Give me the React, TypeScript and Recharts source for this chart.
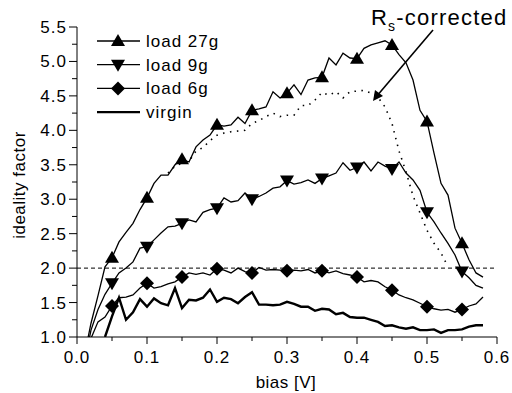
import React from 'react';
import { LineChart, Line, XAxis, YAxis, ReferenceLine } from 'recharts';

const bias = [
  0.01, 0.02, 0.03, 0.04, 0.05, 0.06, 0.07, 0.08, 0.09, 0.1,
  0.11, 0.12, 0.13, 0.14, 0.15, 0.16, 0.17, 0.18, 0.19, 0.2,
  0.21, 0.22, 0.23, 0.24, 0.25, 0.26, 0.27, 0.28, 0.29, 0.3,
  0.31, 0.32, 0.33, 0.34, 0.35, 0.36, 0.37, 0.38, 0.39, 0.4,
  0.41, 0.42, 0.43, 0.44, 0.45, 0.46, 0.47, 0.48, 0.49, 0.5,
  0.51, 0.52, 0.53, 0.54, 0.55, 0.56, 0.57, 0.58,
];

const load27g = [
  0.7, 1.2, 1.6, 2.02, 2.15, 2.38, 2.52, 2.65, 2.85, 3.02,
  3.23, 3.35, 3.35, 3.5, 3.58, 3.54, 3.76, 3.86, 3.93, 4.08,
  4.06, 4.08, 4.19, 4.1, 4.29, 4.31, 4.34, 4.56, 4.47, 4.54,
  4.66, 4.52, 4.73, 4.76, 4.77, 5.05, 4.95, 5.12, 5.05, 5.04,
  5.19, 5.24, 5.27, 5.3, 5.24, 5.1, 4.98, 4.73, 4.29, 4.13,
  3.67, 3.23, 3.06, 2.58, 2.36, 2.12, 1.93, 1.87,
];

const load9g = [
  0.6, 1.1, 1.4, 1.62, 1.78, 1.93, 2.0, 2.09, 2.29, 2.31,
  2.41, 2.51, 2.6, 2.61, 2.65, 2.7, 2.67, 2.81, 2.85, 2.87,
  3.02, 2.96, 2.98, 3.09, 3.0, 3.04, 3.09, 3.16, 3.18, 3.27,
  3.22, 3.24, 3.28, 3.23, 3.3, 3.34, 3.38, 3.53, 3.42, 3.46,
  3.54, 3.41, 3.54, 3.48, 3.44, 3.54, 3.38, 3.28, 3.13, 2.81,
  2.67, 2.51, 2.36, 2.19, 1.95, 1.86, 1.75, 1.71,
];

const load6g = [
  0.5, 0.98, 1.22, 1.29, 1.45, 1.57, 1.58, 1.61, 1.71, 1.78,
  1.71, 1.73, 1.77, 1.8, 1.87, 1.93, 1.91, 1.93, 1.9, 1.99,
  1.97, 1.93, 2.0, 1.95, 1.93, 2.01, 1.97, 1.98, 1.97, 1.96,
  1.97, 1.96, 1.98, 1.93, 1.96, 1.93, 1.96, 1.92, 1.9, 1.87,
  1.8, 1.82, 1.8, 1.73, 1.68, 1.61, 1.57, 1.54, 1.49, 1.44,
  1.41, 1.39, 1.4, 1.36, 1.4, 1.45, 1.48, 1.58,
];

const virgin = [
  null, null, null, 1.0, 1.3, 1.57, 1.25, 1.36, 1.55, 1.44,
  1.56, 1.49, 1.46, 1.71, 1.42, 1.54, 1.53, 1.57, 1.69, 1.51,
  1.57, 1.55, 1.49, 1.58, 1.65, 1.47, 1.47, 1.46, 1.47, 1.51,
  1.48, 1.44, 1.44, 1.38, 1.41, 1.4, 1.33, 1.35, 1.29, 1.28,
  1.28, 1.25, 1.22, 1.16, 1.17, 1.14, 1.12, 1.14, 1.1, 1.1,
  1.11, 1.06, 1.1, 1.1, 1.11, 1.15, 1.17, 1.17,
];

const rsCorrected = [
  null, null, null, null, null, null, null, null, null, null,
  null, null, 3.38, 3.48, 3.52, 3.55, 3.7, 3.75, 3.85, 3.93,
  3.96, 3.98, 3.99, 4.0, 4.1, 4.14, 4.2, 4.25, 4.2, 4.22,
  4.22, 4.36, 4.36, 4.44, 4.55, 4.51, 4.56, 4.47, 4.56, 4.57,
  4.58, 4.54, 4.48, 4.34, 4.1, 3.7, 3.4, 3.05, 2.8, 2.55,
  2.36, 2.22, 2.02, null, null, null, null, null,
];

const xTicks = [0, 0.05, 0.1, 0.15, 0.2, 0.25, 0.3, 0.35, 0.4, 0.45, 0.5, 0.55, 0.6];
const yTicks = [1, 1.25, 1.5, 1.75, 2, 2.25, 2.5, 2.75, 3, 3.25, 3.5, 3.75, 4, 4.25, 4.5, 4.75, 5, 5.25, 5.5];

const legendItems = ['load 27g', 'load 9g', 'load 6g', 'virgin'];

const data = bias.map((b, i) => ({
  bias: b,
  load27g: load27g[i],
  load9g: load9g[i],
  load6g: load6g[i],
  virgin: virgin[i],
  rsCorrected: rsCorrected[i],
}));

const FONT = '"Liberation Sans", Arial, sans-serif';

function Marker({ kind, cx, cy }: { kind: string; cx: number; cy: number }) {
  if (kind === 'up') {
    return <polygon points={`${cx},${cy - 7} ${cx + 7},${cy + 5} ${cx - 7},${cy + 5}`} fill="#000" />;
  }
  if (kind === 'down') {
    return <polygon points={`${cx},${cy + 7} ${cx + 7},${cy - 5} ${cx - 7},${cy - 5}`} fill="#000" />;
  }
  return <polygon points={`${cx},${cy - 7} ${cx + 7},${cy} ${cx},${cy + 7} ${cx - 7},${cy}`} fill="#000" />;
}

const markerDot = (kind: string) => (props: any) => {
  const { cx, cy, index } = props;
  if (cx == null || cy == null || index % 5 !== 4) return <g key={`d-${kind}-${index}`} />;
  return (
    <g key={`d-${kind}-${index}`}>
      <Marker kind={kind} cx={cx} cy={cy} />
    </g>
  );
};

function XTick({ x, y, payload }: any) {
  const major = Math.round(payload.value * 100) % 10 === 0;
  return (
    <g>
      <line x1={x} x2={x} y1={y} y2={y + (major ? 7 : 4)} stroke="#000" />
      {major && (
        <text x={x} y={y + 26} textAnchor="middle" fontFamily={FONT} fontSize={17} letterSpacing={1} fill="#000">
          {payload.value.toFixed(1)}
        </text>
      )}
    </g>
  );
}

function YTick({ x, y, payload }: any) {
  const major = Math.round(payload.value * 100) % 50 === 0;
  return (
    <g>
      <line x1={x - (major ? 8 : 5)} x2={x} y1={y} y2={y} stroke="#000" />
      {major && (
        <text x={x - 10} y={y + 6} textAnchor="end" fontFamily={FONT} fontSize={17} letterSpacing={1} fill="#000">
          {payload.value.toFixed(1)}
        </text>
      )}
    </g>
  );
}

export default function App() {
  return (
    <div style={{ position: 'absolute', left: 0, top: 0, width: 512, height: 393, background: '#fff' }}>
      <LineChart width={512} height={393} data={data} margin={{ top: 27, right: 15, left: 0, bottom: 0 }}>
        <XAxis
          dataKey="bias"
          type="number"
          domain={[0, 0.6]}
          ticks={xTicks}
          interval={0}
          height={56}
          tickSize={0}
          tickMargin={0}
          tickLine={false}
          axisLine={{ stroke: '#000' }}
          tick={<XTick />}
        />
        <YAxis
          type="number"
          domain={[1, 5.5]}
          ticks={yTicks}
          interval={0}
          width={77}
          allowDataOverflow
          tickSize={0}
          tickMargin={0}
          tickLine={false}
          axisLine={{ stroke: '#000' }}
          tick={<YTick />}
        />
        <ReferenceLine y={2} stroke="#000" strokeWidth={1} strokeDasharray="4 3" />
        <Line dataKey="rsCorrected" stroke="#000" strokeWidth={1.6} strokeDasharray="1.5 5.5" dot={false} isAnimationActive={false} />
        <Line dataKey="virgin" stroke="#000" strokeWidth={2.4} dot={false} isAnimationActive={false} />
        <Line dataKey="load6g" stroke="#000" strokeWidth={1.3} dot={markerDot('diamond')} isAnimationActive={false} />
        <Line dataKey="load9g" stroke="#000" strokeWidth={1.3} dot={markerDot('down')} isAnimationActive={false} />
        <Line dataKey="load27g" stroke="#000" strokeWidth={1.3} dot={markerDot('up')} isAnimationActive={false} />
      </LineChart>
      <svg width={512} height={393} style={{ position: 'absolute', left: 0, top: 0, pointerEvents: 'none' }}>
        {legendItems.map((label, i) => {
          const cy = 41 + i * 23.7;
          const kind = ['up', 'down', 'diamond', ''][i];
          return (
            <g key={label}>
              <line x1={97} x2={140} y1={cy} y2={cy} stroke="#000" strokeWidth={i === 3 ? 2.4 : 1.3} />
              {kind && <Marker kind={kind} cx={118} cy={cy} />}
              <text x={146} y={cy + 6} fontFamily={FONT} fontSize={17} letterSpacing={1} fill="#000">
                {label}
              </text>
            </g>
          );
        })}
        <text x={25} y={185} transform="rotate(-90 25 185)" textAnchor="middle" fontFamily={FONT} fontSize={17} letterSpacing={0.5} fill="#000">
          ideality factor
        </text>
        <text x={286} y={388} textAnchor="middle" fontFamily={FONT} fontSize={17} letterSpacing={0.5} fill="#000">
          bias [V]
        </text>
        <text x={371} y={25} fontFamily={FONT} fontSize={22} letterSpacing={1.2} fill="#000">
          R
          <tspan fontSize={14} dy={6}>s</tspan>
          <tspan dy={-6}>-corrected</tspan>
        </text>
        <line x1={433} y1={30} x2={376} y2={97} stroke="#000" strokeWidth={1.6} />
        <polygon points="373,101 375,90 383,96" fill="#000" />
      </svg>
    </div>
  );
}
